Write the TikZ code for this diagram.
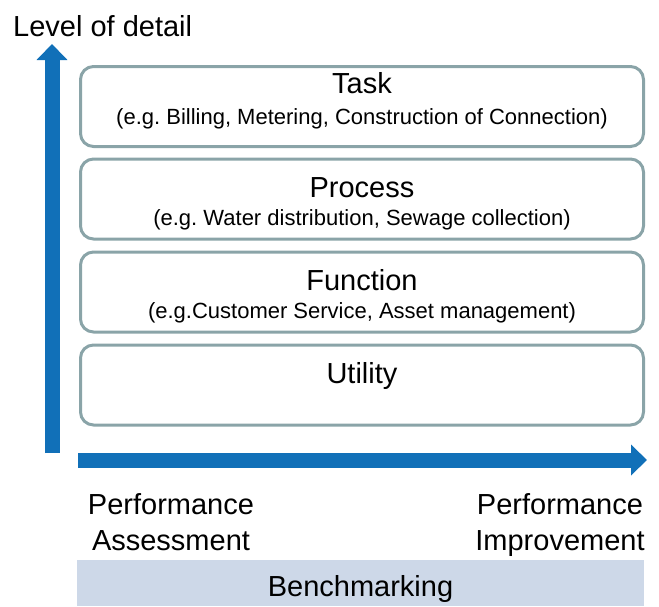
\documentclass[tikz,border=0pt]{standalone}
\usepackage{fontspec}
\setmainfont{Liberation Sans}
\usetikzlibrary{arrows.meta}
\definecolor{arrowblue}{HTML}{1170B8}
\definecolor{boxline}{HTML}{8AA4A8}
\definecolor{benchfill}{HTML}{CDD8E8}
\frenchspacing
\tikzset{
  layerbox/.style={draw=boxline, line width=3pt, rounded corners=13pt, minimum width=563pt, minimum height=80pt, inner sep=0pt},
  bigtext/.style={font=\fontsize{29}{36}\selectfont, inner sep=0pt, anchor=base},
  subtext/.style={font=\fontsize{22}{27}\selectfont, inner sep=0pt, anchor=base},
  axisarrow/.style={draw=arrowblue, line width=15pt, -{Triangle[length=16pt, width=30pt]}},
}
\begin{document}
\begin{tikzpicture}[x=1pt, y=-1pt]
\useasboundingbox (0,0) rectangle (659,606);
% boxes
\node[layerbox] (task) at (362,106.5) {};
\node[layerbox] (process) at (362,199) {};
\node[layerbox] (function) at (362,292) {};
\node[layerbox] (utility) at (362,385) {};
% texts
\node[bigtext] (tasktitle) at (362,93) {Task};
\node[subtext] (tasksub) at (362,124) {(e.g. Billing, Metering, Construction of Connection)};
\node[bigtext] (proctitle) at (362,197) {Process};
\node[subtext] (procsub) at (362,225) {(e.g. Water distribution, Sewage collection)};
\node[bigtext] (functitle) at (362,290) {Function};
\node[subtext] (funcsub) at (362,318) {(e.g.Customer Service, Asset management)};
\node[bigtext] (utiltitle) at (362,383) {Utility};
% axes
\coordinate (vstart) at (52,453);
\coordinate (vend) at (52,44);
\coordinate (hstart) at (78,460);
\coordinate (hend) at (647,460);
\draw[axisarrow] (vstart) -- (vend);
\draw[axisarrow] (hstart) -- (hend);
\node[bigtext, anchor=base west] (level) at (13,36) {Level of detail};
% bottom labels
\node[bigtext] (pa1) at (171,514) {Performance};
\node[bigtext] (pa2) at (171,550) {Assessment};
\node[bigtext] (pi1) at (560,514) {Performance};
\node[bigtext] (pi2) at (560,550) {Improvement};
% benchmarking bar
\node[fill=benchfill, minimum width=567pt, minimum height=46pt, inner sep=0pt] (bench) at (360.5,583) {};
\node[bigtext] (benchtext) at (360.5,596) {Benchmarking};
\end{tikzpicture}
\end{document}
